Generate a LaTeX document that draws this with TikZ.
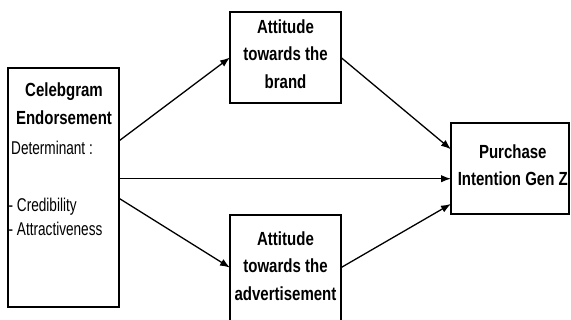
\documentclass[tikz,border=0pt]{standalone}
\usepackage{fontspec}
\setmainfont[FakeStretch=0.735,BoldFeatures={FakeStretch=0.79}]{Liberation Sans}
\usetikzlibrary{arrows.meta,positioning}

\tikzset{
  box/.style={draw,line width=1.3pt,inner sep=0pt,outer sep=0pt},
  boxtext/.style={inner sep=0pt,align=center,font=\bfseries\fontsize{19}{27.5}\selectfont},
  plaintext/.style={inner sep=0pt,align=left,font=\fontsize{18.5}{23.5}\selectfont},
  link/.style={-{Latex[length=10pt,width=7.5pt]},line width=1.3pt}
}

\begin{document}
\begin{tikzpicture}[x=1pt,y=-1pt]
\useasboundingbox (0,0) rectangle (571,320);

% boxes
\node (celeb) [box,minimum width=111pt,minimum height=239pt] at (63.5,187.5) {};
\node (brand) [box,minimum width=111pt,minimum height=91pt] at (285.5,57.5) {};
\node (advert) [box,minimum width=111pt,minimum height=115pt] at (285.5,272.5) {};
\node (purchase) [box,minimum width=118pt,minimum height=91pt] at (510,168.5) {};

% texts
\node (celebtitle) [boxtext,anchor=north] at (64,82.8) {Celebgram\\Endorsement};
\node (determ) [plaintext,anchor=base west] at (11,155) {Determinant :};
\node (attrs) [plaintext,anchor=north west] at (8.5,198) {- Credibility\\- Attractiveness};
\node (brandtext) [boxtext,anchor=north] at (285.5,19.4) {Attitude\\towards the\\brand};
\node (adverttext) [boxtext,anchor=north] at (285.5,231.1) {Attitude\\towards the\\advertisement};
\node (purchasetext) [boxtext,anchor=north] at (512.8,144.1) {Purchase\\Intention Gen Z};

% links
\draw[link] (celeb.40.6) -- (brand.west);
\draw[link] (celeb.9.7) -- (celeb.9.7 -| purchase.west);
\draw[link] (celeb.-11) -- (advert.175.4);
\draw[link] (brand.east) -- (purchase.162.6);
\draw[link] (advert.5.7) -- (purchase.211.7);
\end{tikzpicture}
\end{document}
